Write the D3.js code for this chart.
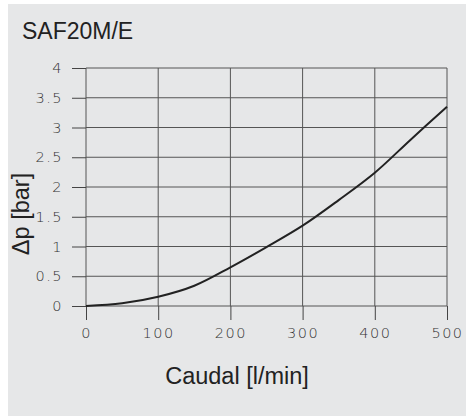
<!DOCTYPE html>
<html>
<head>
<meta charset="utf-8">
<script src="https://cdn.jsdelivr.net/npm/d3@7"></script>
<style>
  body { margin: 0; background: #fff; }
  .tick text { font-family: "DejaVu Sans", sans-serif; font-weight: 200; font-size: 14.5px; fill: #333; letter-spacing: 1.5px; }
</style>
</head>
<body>
<div id="chart"></div>
<script>
// dados
const flow = [0, 50, 100, 150, 200, 250, 300, 350, 400, 450, 500];
const dp = [0, 0.045, 0.155, 0.34, 0.65, 0.99, 1.35, 1.78, 2.24, 2.8, 3.35];
const xTicks = [0, 100, 200, 300, 400, 500];
const yTicks = [0, 0.5, 1, 1.5, 2, 2.5, 3, 3.5, 4];

const W = 466, H = 416;
const svg = d3.select("#chart").append("svg")
    .attr("width", W).attr("height", H);

// fundo cinza
svg.append("rect").attr("x", 8).attr("y", 4).attr("width", W - 8).attr("height", H - 4)
    .attr("fill", "#e6e7e8");

const x = d3.scaleLinear().domain([0, 500]).range([86, 447]);
const y = d3.scaleLinear().domain([0, 4]).range([306, 68]);

// grelha
svg.append("g").selectAll("line").data(yTicks).join("line")
    .attr("x1", x(0)).attr("x2", x(500))
    .attr("y1", d => y(d)).attr("y2", d => y(d))
    .attr("stroke", "#555").attr("stroke-width", 1);
svg.append("g").selectAll("line").data(xTicks).join("line")
    .attr("x1", d => x(d)).attr("x2", d => x(d))
    .attr("y1", y(0)).attr("y2", y(4))
    .attr("stroke", "#555").attr("stroke-width", 1);

// eixos
const yAxis = svg.append("g").attr("transform", `translate(${x(0)},0)`)
    .call(d3.axisLeft(y).tickValues(yTicks).tickSize(14).tickPadding(9)
        .tickFormat(d => String(d)));
const xAxis = svg.append("g").attr("transform", `translate(0,${y(0)})`)
    .call(d3.axisBottom(x).tickValues(xTicks).tickSize(14).tickPadding(8));
[yAxis, xAxis].forEach(a => {
    a.select(".domain").remove();
    a.selectAll(".tick line").attr("stroke", "#444");
});

// curva
const line = d3.line().x((d, i) => x(flow[i])).y(d => y(d)).curve(d3.curveCatmullRom);
svg.append("path").datum(dp).attr("d", line)
    .attr("fill", "none").attr("stroke", "#222").attr("stroke-width", 2);

// textos
const font = "Liberation Sans, Arial, sans-serif";
svg.append("text").attr("x", 22).attr("y", 39).text("SAF20M/E")
    .attr("font-family", font).attr("font-size", 23).attr("fill", "#222");
svg.append("text").attr("transform", "translate(29,214) rotate(-90)")
    .attr("text-anchor", "middle").text("Δp [bar]")
    .attr("font-family", font).attr("font-size", 23.5).attr("fill", "#222");
svg.append("text").attr("x", 237).attr("y", 384).attr("text-anchor", "middle").text("Caudal [l/min]")
    .attr("font-family", font).attr("font-size", 23.5).attr("fill", "#222");
</script>
</body>
</html>
